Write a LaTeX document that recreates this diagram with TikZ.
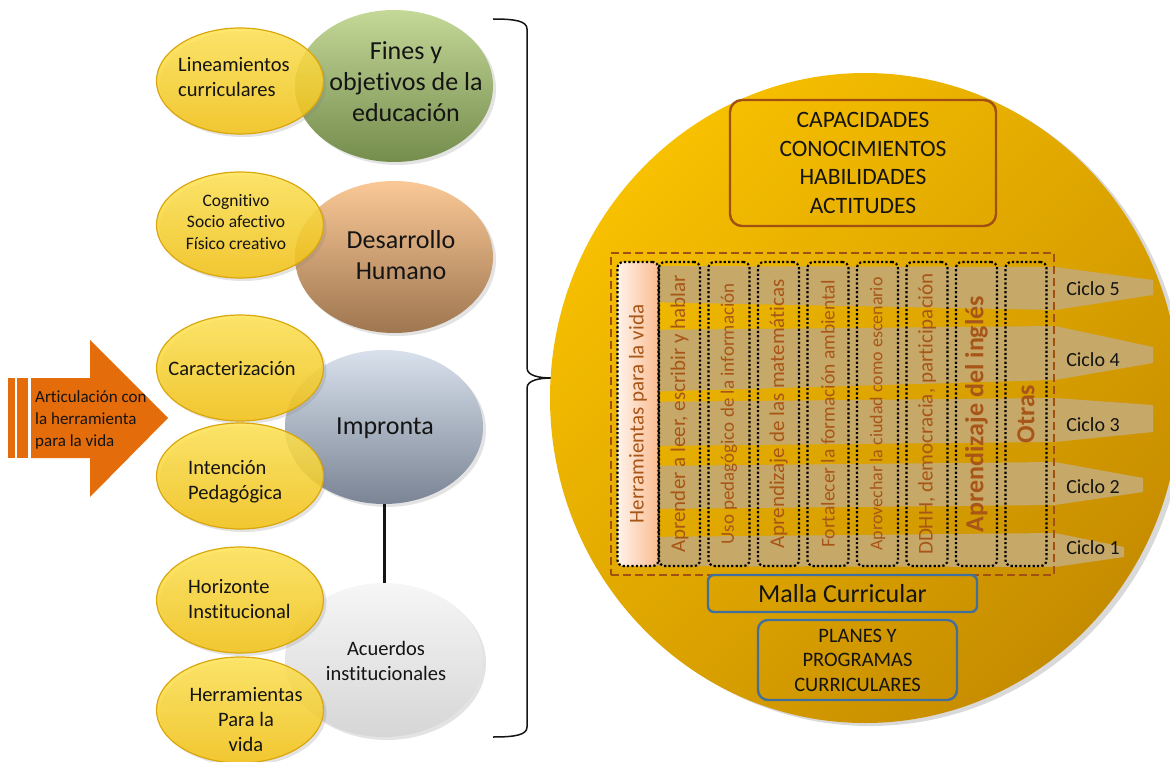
\documentclass[tikz,border=0pt]{standalone}
\usepackage{fontspec}
\setmainfont{Carlito}[Ligatures={NoCommon,NoContextual}]
\usetikzlibrary{shapes.geometric,shadows}

\definecolor{negro}{RGB}{20,20,20}
\definecolor{oro1}{RGB}{247,192,0}
\definecolor{oro2}{RGB}{198,140,0}
\definecolor{amar1}{RGB}{255,228,84}
\definecolor{amar2}{RGB}{244,194,18}
\definecolor{amarborde}{RGB}{218,166,12}
\definecolor{verde1}{RGB}{196,216,152}
\definecolor{verde2}{RGB}{116,140,76}
\definecolor{durazno1}{RGB}{250,200,150}
\definecolor{durazno2}{RGB}{158,118,80}
\definecolor{gris1}{RGB}{216,225,236}
\definecolor{gris2}{RGB}{122,132,148}
\definecolor{claro1}{RGB}{246,246,246}
\definecolor{claro2}{RGB}{214,214,214}
\definecolor{naranja}{RGB}{228,108,10}
\definecolor{cafe}{RGB}{160,80,18}
\definecolor{cafetexto}{RGB}{168,86,24}
\definecolor{cinta}{RGB}{198,168,104}
\definecolor{azulcaja}{RGB}{66,112,158}
\definecolor{blanco1}{RGB}{255,242,232}
\definecolor{blanco2}{RGB}{250,188,145}

\begin{document}
\begin{tikzpicture}[x=1pt,y=-1pt,
    sombra/.style={drop shadow={shadow xshift=3pt,shadow yshift=-3pt,opacity=0.22}},
    grande/.style={ellipse,minimum width=198,minimum height=152,inner sep=0,sombra},
    amarilla/.style={ellipse,minimum width=167,minimum height=106,inner sep=0,
        top color=amar1,bottom color=amar2,draw=amarborde,line width=1.2,
        fill opacity=0.85,sombra},
    texto/.style={inner sep=0,text=negro,align=center},
    caja/.style={rectangle,draw=#1,line width=2.4,inner sep=0},
    columna/.style={rectangle,rounded corners=6,draw=black,line width=2.2,
        dash pattern=on 2.2pt off 2.2pt,minimum width=41,minimum height=304,inner sep=0},
    coltexto/.style={rotate=90,inner sep=0,text=cafetexto},
    ciclo/.style={inner sep=0,text=negro,font=\fontsize{20}{24}\selectfont},
  ]
\useasboundingbox (0,0) rectangle (1170,762);

% llave
\draw[line width=1.5,negro] (493,19) .. controls (515,19) and (527,21) .. (527,29)
  -- (527,368) .. controls (527,376) and (540,378) .. (552,378)
  .. controls (540,378) and (527,380) .. (527,388)
  -- (527,727) .. controls (527,735) and (515,737) .. (493,737);

% elipses grandes
\node[grande,top color=verde1,bottom color=verde2] (fines) at (394,86) {};
\node[grande,top color=durazno1,bottom color=durazno2] (desarrollo) at (394,257) {};
\node[grande,top color=gris1,bottom color=gris2,minimum height=154] (impronta) at (384,427) {};
\node[grande,top color=claro1,bottom color=claro2,minimum height=154] (acuerdos) at (384,660) {};
\draw[line width=3,negro] (impronta.south) -- (acuerdos.north);

% elipses amarillas
\node[amarilla] (lineamientos) at (240,81) {};
\node[amarilla] (cognitivo) at (240,225) {};
\node[amarilla] (caracterizacion) at (240,368) {};
\node[amarilla] (intencion) at (240,476) {};
\node[amarilla] (horizonte) at (240,600) {};
\node[amarilla] (herramientas) at (240,710) {};

\node[texto,font=\fontsize{26}{31}\selectfont] (tfines) at (406,82) {Fines y\\objetivos de la\\educación};
\node[texto,font=\fontsize{26}{31}\selectfont] (tdesarrollo) at (401,255) {Desarrollo\\Humano};
\node[texto,font=\fontsize{26}{31}\selectfont] (timpronta) at (385,428) {Impronta};
\node[texto,font=\fontsize{20.5}{25}\selectfont] (tacuerdos) at (386,661) {Acuerdos\\institucionales};

\node[texto,align=left,anchor=west,font=\fontsize{20.5}{25}\selectfont] (tlineamientos) at (178,77) {Lineamientos\\curriculares};
\node[texto,font=\fontsize{17.5}{21.5}\selectfont] (tcognitivo) at (236,222) {Cognitivo\\Socio afectivo\\Físico creativo};
\node[texto,font=\fontsize{20.5}{25}\selectfont] (tcaracterizacion) at (232,369) {Caracterización};
\node[texto,align=left,anchor=west,font=\fontsize{20.5}{25}\selectfont] (tintencion) at (188,482) {Intención\\Pedagógica};
\node[texto,align=left,anchor=west,font=\fontsize{20.5}{25}\selectfont] (thorizonte) at (188,599) {Horizonte\\Institucional};
\node[texto,font=\fontsize{20.5}{25}\selectfont] (therramientas) at (246,720) {Herramientas\\Para la\\vida};

% flecha naranja
\fill[naranja] (8,378) rectangle (15,458);
\fill[naranja] (17,378) rectangle (28,458);
\fill[naranja] (31,378) -- (90,378) -- (90,340) -- (168,418) -- (90,497) -- (90,458) -- (31,458) -- cycle;
\node[texto,align=left,anchor=west,font=\fontsize{17}{22}\selectfont] (articulacion) at (35,420) {Articulación con\\la herramienta\\para la vida};

% circulo
\node[ellipse,minimum width=630,minimum height=650,inner sep=0,top color=oro1,bottom color=oro2,
  shading angle=45,drop shadow={shadow xshift=5pt,shadow yshift=-3pt,opacity=0.3}] (circulo) at (865,398) {};

% ciclos
\foreach \ya/\yb/\yc/\yd/\xt/\ye/\yf in {266/302/267/310/1153/280/295,
    330/392/326/380/1153/347/363, 402/446/398/442/1153/405/432,
    466/509/462/505/1143/478/492, 537/566/533/567/1124/547/557}
  \fill[cinta] (640,\ya) -- (1055,\yc) -- (\xt,\ye) -- (\xt,\yf) -- (1055,\yd) -- (640,\yb) -- cycle;

\node[ciclo] (c5) at (1093,289) {Ciclo 5};
\node[ciclo] (c4) at (1093,360) {Ciclo 4};
\node[ciclo] (c3) at (1093,425) {Ciclo 3};
\node[ciclo] (c2) at (1093,487) {Ciclo 2};
\node[ciclo] (c1) at (1093,548) {Ciclo 1};

\node[caja=cafe,dash pattern=on 8pt off 4pt,minimum width=443,minimum height=322] (herramientasbox) at (832.5,414) {};

% columnas
\node[columna,left color=blanco1,right color=blanco2] (col1) at (638,414) {};
\foreach \n/\x in {2/679.5,3/729,4/778.5,5/828,6/877.5,7/927,8/976.5,9/1026}
  \node[columna] (col\n) at (\x,414) {};

\node[coltexto,font=\fontsize{21}{21}\selectfont] at (col1) {Herramientas para la vida};
\node[coltexto,font=\fontsize{21}{21}\selectfont] at (col2) {Aprender a leer, escribir y hablar};
\node[coltexto,font=\fontsize{19}{19}\selectfont] at (col3) {Uso pedagógico de la información};
\node[coltexto,font=\fontsize{21}{21}\selectfont] at (col4) {Aprendizaje de las matemáticas};
\node[coltexto,font=\fontsize{19.5}{19.5}\selectfont] at (col5) {Fortalecer la formación ambiental};
\node[coltexto,font=\fontsize{18}{18}\selectfont] at (col6) {Aprovechar la ciudad como escenario};
\node[coltexto,font=\fontsize{21}{21}\selectfont] at (col7) {DDHH, democracia, participación};
\node[coltexto,font=\bfseries\fontsize{26}{26}\selectfont] at (col8) {Aprendizaje del inglés};
\node[coltexto,font=\bfseries\fontsize{26}{26}\selectfont] at (col9) {Otras};

% cajas
\node[caja=cafe,rounded corners=12,minimum width=266,minimum height=126,align=center,
  text=negro,font=\fontsize{23.5}{28.7}\selectfont] (capacidades) at (863,163)
  {CAPACIDADES\\CONOCIMIENTOS\\HABILIDADES\\ACTITUDES};
\node[caja=azulcaja,rounded corners=6,minimum width=269,minimum height=37,
  text=negro,font=\fontsize{26}{30}\selectfont] (malla) at (842.5,593.5) {Malla Curricular};
\node[caja=azulcaja,rounded corners=10,minimum width=199,minimum height=80,align=center,
  text=negro,font=\fontsize{20.5}{24.5}\selectfont] (planes) at (857.5,660)
  {PLANES Y\\PROGRAMAS\\CURRICULARES};
\end{tikzpicture}
\end{document}
